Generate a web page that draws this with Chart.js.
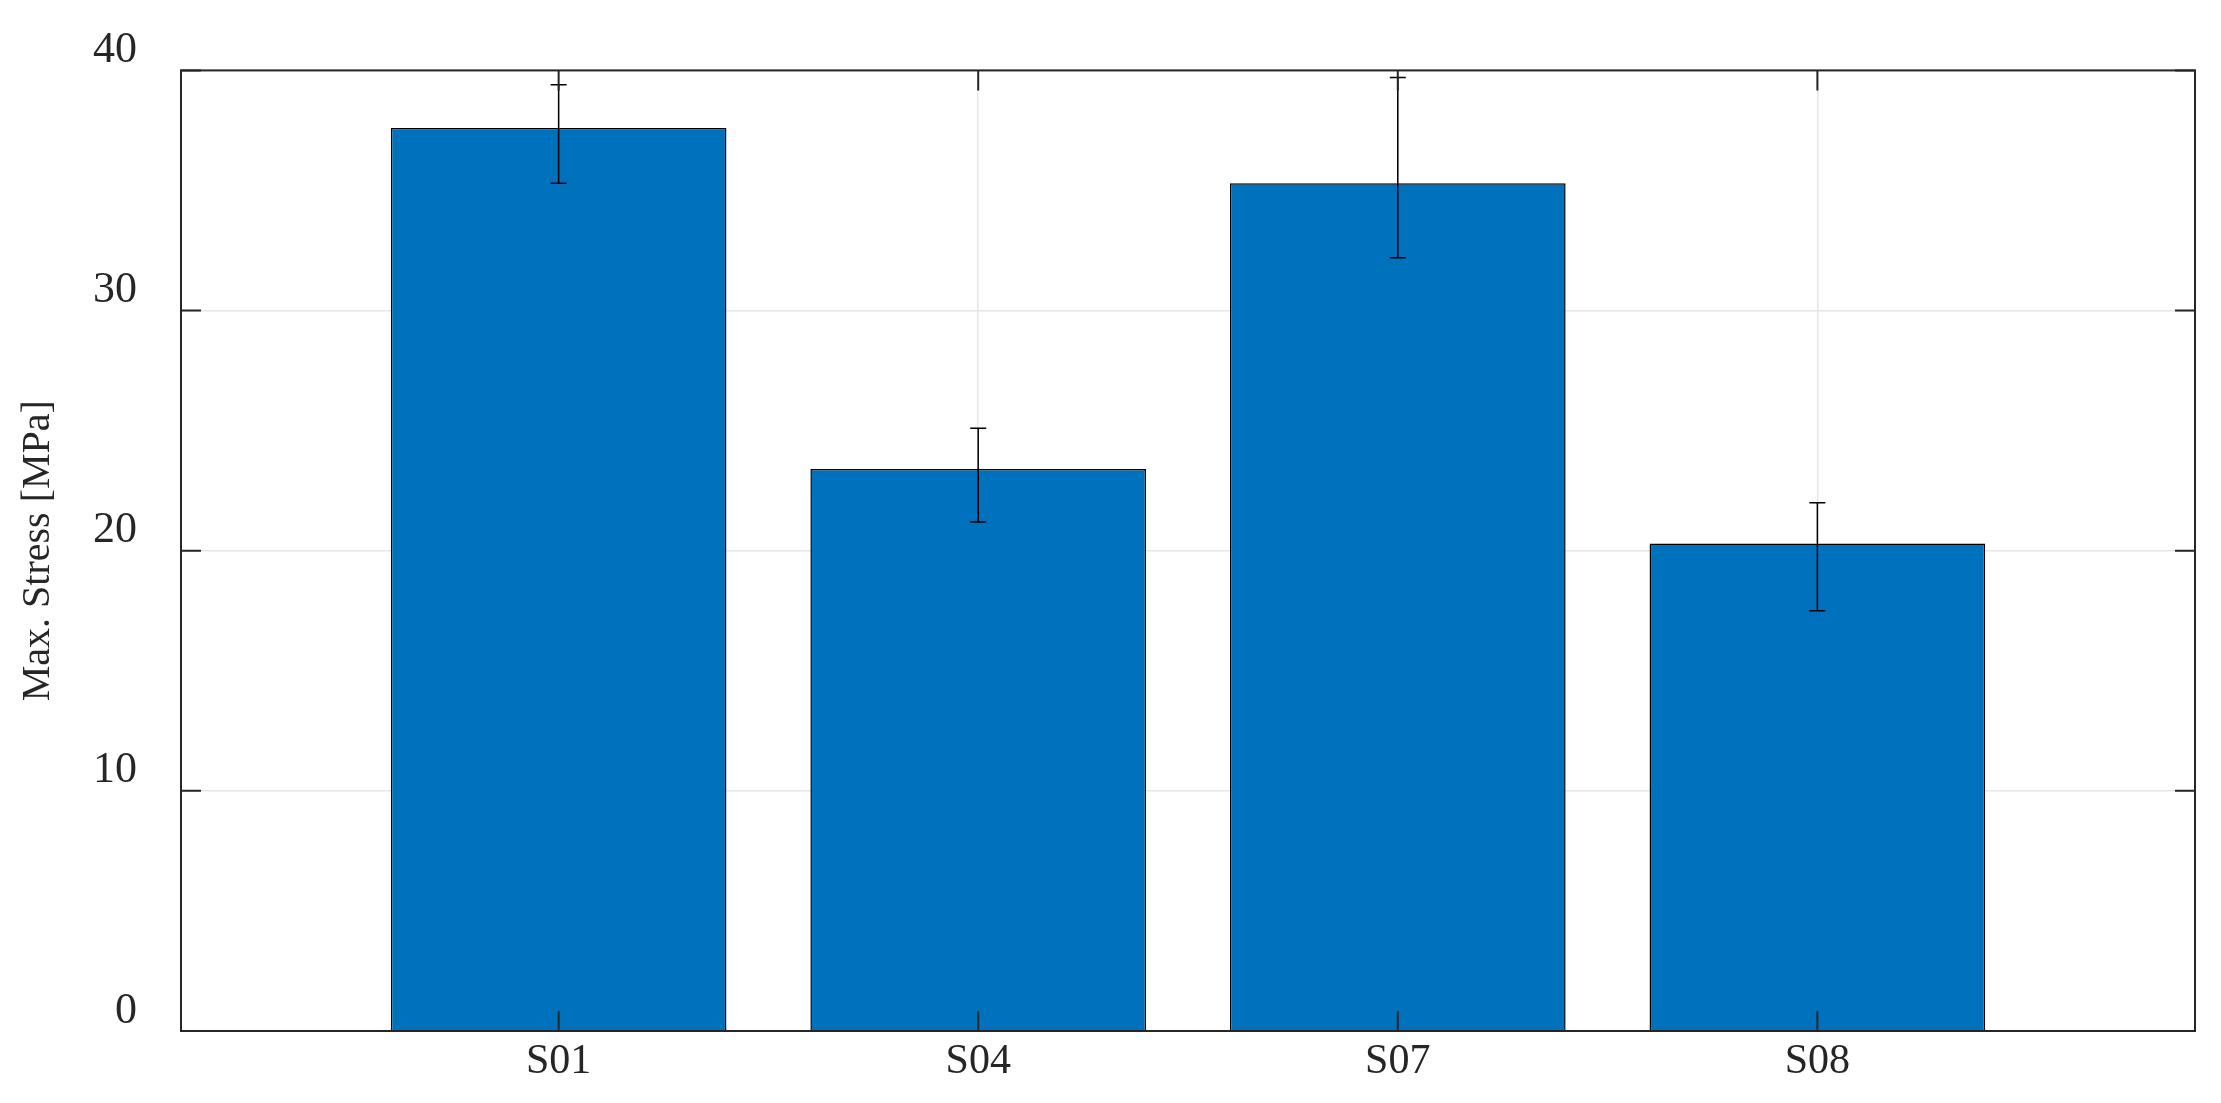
<!DOCTYPE html>
<html>
<head>
<meta charset="utf-8">
<script src="https://cdn.jsdelivr.net/npm/chart.js@4/dist/chart.umd.min.js"></script>
<style>
  html, body { margin: 0; padding: 0; background: #fff; overflow: hidden; }
  canvas { display: block; }
</style>
</head>
<body>
<canvas id="c" width="2221" height="1103"></canvas>
<script>
const categories = ["S01", "S04", "S07", "S08"];
const positions = [1, 2, 3, 4];
const maxStress = [37.6, 23.4, 35.3, 20.3];
const errUpper = [39.4, 25.1, 39.7, 22.0];
const errLower = [35.3, 21.2, 32.2, 17.5];
const yTicks = [0, 10, 20, 30, 40];

const FONT = "'Liberation Serif', 'DejaVu Serif', serif";

// asymmetric error bars + inward tick marks + box border
const extras = {
  id: "extras",
  afterDatasetsDraw(chart) {
    const { ctx, chartArea: a, scales: { x, y } } = chart;
    ctx.save();
    ctx.strokeStyle = "#000";
    ctx.lineWidth = 1.5;
    positions.forEach((p, i) => {
      const px = x.getPixelForValue(p);
      const top = y.getPixelForValue(errUpper[i]);
      const bot = y.getPixelForValue(errLower[i]);
      ctx.beginPath();
      ctx.moveTo(px, top); ctx.lineTo(px, bot);
      ctx.moveTo(px - 8, top); ctx.lineTo(px + 8, top);
      ctx.moveTo(px - 8, bot); ctx.lineTo(px + 8, bot);
      ctx.stroke();
    });
    ctx.strokeStyle = "#262626";
    ctx.lineWidth = 2;
    ctx.beginPath();
    positions.forEach((p) => {
      const px = x.getPixelForValue(p);
      ctx.moveTo(px, a.bottom); ctx.lineTo(px, a.bottom - 20);
      ctx.moveTo(px, a.top); ctx.lineTo(px, a.top + 20);
    });
    yTicks.forEach((t) => {
      const py = y.getPixelForValue(t);
      ctx.moveTo(a.left, py); ctx.lineTo(a.left + 20, py);
      ctx.moveTo(a.right, py); ctx.lineTo(a.right - 20, py);
    });
    ctx.stroke();
    ctx.strokeRect(a.left, a.top, a.right - a.left, a.bottom - a.top);
    ctx.restore();
  }
};

new Chart(document.getElementById("c"), {
  type: "bar",
  data: {
    datasets: [{
      data: positions.map((p, i) => ({ x: p, y: maxStress[i] })),
      backgroundColor: "#0072bd",
      borderColor: "#000",
      borderWidth: 1.5,
      categoryPercentage: 1,
      barPercentage: 0.8
    }]
  },
  options: {
    responsive: false,
    devicePixelRatio: 1,
    animation: false,
    layout: { padding: { top: 39, right: 26, left: 14, bottom: 0 } },
    plugins: { legend: { display: false }, tooltip: { enabled: false } },
    scales: {
      x: {
        type: "linear",
        offset: false,
        min: 0.1,
        max: 4.9,
        afterBuildTicks: (s) => { s.ticks = positions.map((v) => ({ value: v })); },
        afterFit: (s) => { s.height = 72; },
        ticks: {
          callback: (v) => categories[positions.indexOf(v)] ?? "",
          font: { family: FONT, size: 42 },
          color: "#262626",
          padding: 6,
          maxRotation: 0
        },
        grid: { color: "#e6e6e6", lineWidth: 1.5, drawTicks: false, offset: false },
        border: { display: false }
      },
      y: {
        min: 0,
        max: 40,
        afterBuildTicks: (s) => { s.ticks = yTicks.map((v) => ({ value: v })); },
        afterFit: (s) => { s.width = 167; },
        ticks: {
          font: { family: FONT, size: 44 },
          color: "#262626",
          padding: 44,
          labelOffset: -20
        },
        grid: { color: "#e6e6e6", lineWidth: 1.5, drawTicks: false },
        border: { display: false },
        title: {
          display: true,
          text: "Max. Stress [MPa]",
          font: { family: FONT, size: 40 },
          color: "#262626",
          padding: { top: 0, bottom: 0 }
        }
      }
    }
  },
  plugins: [extras]
});
</script>
</body>
</html>
